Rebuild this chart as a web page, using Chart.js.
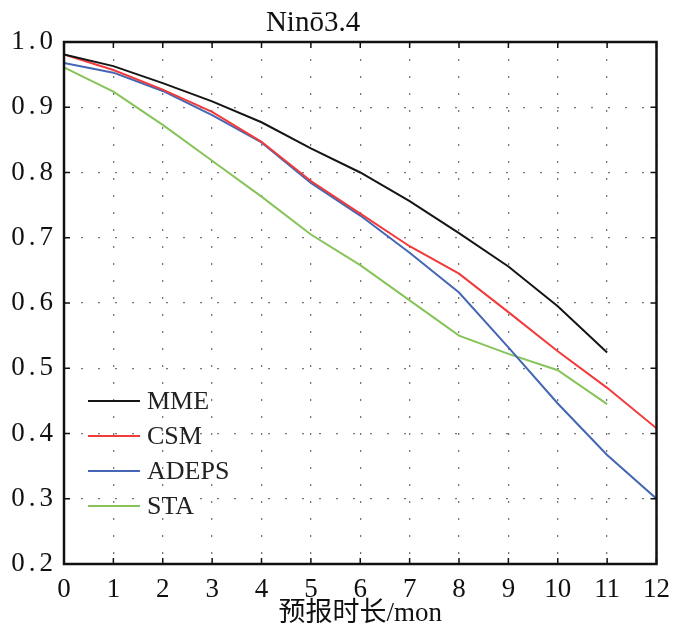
<!DOCTYPE html>
<html><head><meta charset="utf-8">
<script src="https://cdn.jsdelivr.net/npm/chart.js@4/dist/chart.umd.min.js"></script>
<style>html,body{margin:0;padding:0;background:#fff}</style>
</head><body>
<canvas id="c" width="680" height="632"></canvas>
<script>
const months = [0,1,2,3,4,5,6,7,8,9,10,11,12];
const yTicks = [0.2,0.3,0.4,0.5,0.6,0.7,0.8,0.9,1.0];
const seriesNames = ['MME','CSM','ADEPS','STA'];
const MME   = [0.981,0.963,0.937,0.909,0.877,0.837,0.800,0.756,0.707,0.656,0.595,0.524];
const CSM   = [0.981,0.957,0.927,0.893,0.847,0.787,0.737,0.687,0.645,0.586,0.526,0.470,0.408];
const ADEPS = [0.968,0.953,0.925,0.888,0.846,0.784,0.734,0.677,0.616,0.532,0.446,0.367,0.300];
const STA   = [0.961,0.924,0.873,0.818,0.763,0.705,0.658,0.604,0.550,0.522,0.497,0.445];
const titleText = 'Ninō3.4';
const xTitle = '预报时长/mon';

const colors = ['#151515','#f23a3a','#4466b4','#86c45a'];
const SERIF = "'Liberation Serif','Times New Roman',serif";
const FONT_AX = "'Liberation Serif','Noto Sans CJK SC',serif";

const toPts = arr => arr.map((v,i)=>({x:months[i], y:v}));
const allSeries = [MME,CSM,ADEPS,STA];

const frame = {
  id:'frame',
  beforeDraw(chart){
    const ys = chart.scales.y;
    if(ys && !ys._patched){
      const orig = ys.drawLabels.bind(ys);
      ys.drawLabels = function(area){
        const ctx = chart.ctx;
        const prev = ctx.letterSpacing;
        ctx.letterSpacing = '4px';
        orig(area);
        ctx.letterSpacing = prev || '0px';
      };
      ys._patched = true;
    }
  },
  afterDraw(chart){
    const {ctx, chartArea:a, scales:{x,y}} = chart;
    ctx.save();
    ctx.strokeStyle = '#111';
    ctx.lineWidth = 1.5;
    ctx.beginPath();
    for(const m of months){
      const px = x.getPixelForValue(m);
      ctx.moveTo(px,a.top); ctx.lineTo(px,a.top+6);
      ctx.moveTo(px,a.bottom); ctx.lineTo(px,a.bottom-6);
    }
    for(const t of yTicks){
      const py = y.getPixelForValue(t);
      ctx.moveTo(a.left,py); ctx.lineTo(a.left+6,py);
      ctx.moveTo(a.right,py); ctx.lineTo(a.right-6,py);
    }
    ctx.stroke();
    ctx.lineWidth = 2.5;
    ctx.strokeRect(a.left,a.top,a.right-a.left,a.bottom-a.top);
    // title
    ctx.fillStyle = '#111';
    ctx.font = '29px ' + SERIF;
    ctx.textAlign = 'center';
    ctx.textBaseline = 'middle';
    ctx.fillText(titleText, 313, 23);
    // legend
    ctx.font = '26px ' + SERIF;
    ctx.textAlign = 'left';
    chart.data.datasets.forEach((ds,i)=>{
      const yy = 401 + i*35;
      ctx.strokeStyle = ds.borderColor;
      ctx.lineWidth = 2;
      ctx.beginPath(); ctx.moveTo(88,yy); ctx.lineTo(140,yy); ctx.stroke();
      ctx.fillStyle = '#222';
      ctx.fillText(ds.label, 147, yy+1);
    });
    ctx.restore();
  }
};

new Chart(document.getElementById('c'), {
  type:'line',
  data:{
    datasets: allSeries.map((s,i)=>({
      label: seriesNames[i],
      data: toPts(s),
      borderColor: colors[i],
      backgroundColor: colors[i],
      borderWidth: 2,
      pointRadius: 0,
      tension: 0,
      fill: false
    }))
  },
  options:{
    responsive:false,
    animation:false,
    devicePixelRatio:1,
    layout:{padding:{left:0,right:18,top:42,bottom:0}},
    plugins:{legend:{display:false},tooltip:{enabled:false},title:{display:false}},
    scales:{
      x:{
        type:'linear', min:0, max:12,
        afterBuildTicks: s => { s.ticks = months.map(v=>({value:v})); },
        afterFit: s => { s.height = 68; },
        grid:{color:'#777', lineWidth:1.3, drawTicks:false},
        border:{display:false, dash:[2,15]},
        ticks:{color:'#111', padding:10, font:{family:SERIF, size:27}, maxRotation:0, autoSkip:false},
        title:{display:true, text:xTitle, color:'#111', font:{family:FONT_AX, size:27}, padding:{top:0,bottom:2}}
      },
      y:{
        type:'linear', min:0.2, max:1.0,
        afterBuildTicks: s => { s.ticks = yTicks.map(v=>({value:v})); },
        afterFit: s => { s.width = 64; },
        grid:{color:'#777', lineWidth:1.3, drawTicks:false},
        border:{display:false, dash:[2,15]},
        ticks:{color:'#111', padding:7, font:{family:SERIF, size:27}, callback:v=>v.toFixed(1)}
      }
    }
  },
  plugins:[frame]
});
</script>
</body></html>
